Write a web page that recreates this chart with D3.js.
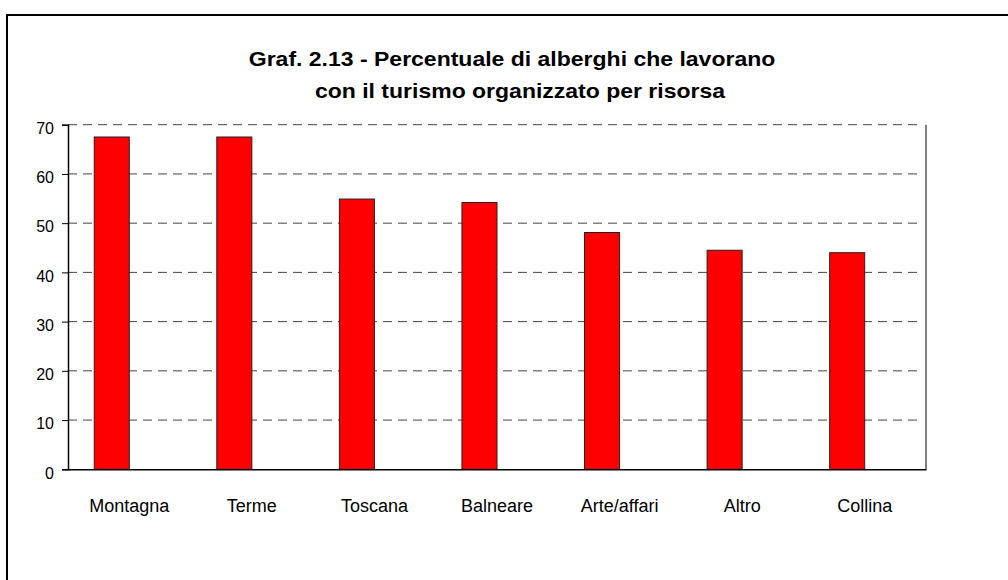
<!DOCTYPE html>
<html>
<head>
<meta charset="utf-8">
<script src="https://cdn.jsdelivr.net/npm/d3@7"></script>
<style>
    body { margin: 0; background: #fff; }
    svg { display: block; font-family: Arial, "Liberation Sans", sans-serif; }
</style>
</head>
<body>
<div id="chart"></div>
<script>
const categories = ["Montagna", "Terme", "Toscana", "Balneare", "Arte/affari", "Altro", "Collina"];
const values = [67.5, 67.5, 54.9, 54.2, 48.1, 44.5, 44.0];
const yTicks = [0, 10, 20, 30, 40, 50, 60, 70];
const titleLines = ["Graf. 2.13 - Percentuale di alberghi che lavorano", "con il turismo organizzato per risorsa"];

const WIDTH = 1008;
const HEIGHT = 580;
const PLOT = {left: 68, right: 926, top: 124.7, bottom: 469.3};
const BAR_RATIO = 0.286;

const svg = d3.select("#chart").append("svg")
    .attr("width", WIDTH)
    .attr("height", HEIGHT);

// outer frame (only top and left edges fall inside the picture)
svg.append("rect")
    .attr("x", 7).attr("y", 15)
    .attr("width", 1100).attr("height", 700)
    .attr("fill", "none")
    .attr("stroke", "#000")
    .attr("stroke-width", 2);

// title, slightly stretched like the original
const titlePos = [[512, 66], [520, 98]];
svg.append("g")
    .selectAll("text")
    .data(titleLines)
    .enter()
    .append("text")
    .attr("transform", (d, i) => `translate(${titlePos[i][0]},${titlePos[i][1]}) scale(1.15,1)`)
    .attr("text-anchor", "middle")
    .style("font-size", "20px").style("font-weight", "bold")
    .text(d => d);

const x = d3.scaleBand().domain(categories).range([PLOT.left, PLOT.right]);
const y = d3.scaleLinear().domain([0, 70]).range([PLOT.bottom, PLOT.top]);
const barW = x.bandwidth() * BAR_RATIO;

// plot right border
svg.append("line")
    .attr("x1", PLOT.right).attr("x2", PLOT.right)
    .attr("y1", y(70)).attr("y2", y(0))
    .attr("stroke", "#808080").attr("stroke-width", 2);

// gridlines
svg.append("g")
    .selectAll("line")
    .data(yTicks.filter(d => d > 0))
    .enter()
    .append("line")
    .attr("x1", PLOT.left).attr("x2", PLOT.right - 3)
    .attr("y1", d => y(d)).attr("y2", d => y(d))
    .attr("stroke", "#444")
    .attr("stroke-width", 1)
    .attr("stroke-dasharray", "9,6");

// bars (first slot of each category group)
svg.append("g")
    .selectAll("rect")
    .data(categories)
    .enter()
    .append("rect")
    .attr("x", (d) => x(d) + x.bandwidth() / 2 - barW)
    .attr("y", (d, i) => y(values[i]))
    .attr("width", barW)
    .attr("height", (d, i) => y(0) - y(values[i]))
    .attr("fill", "#ff0000")
    .attr("stroke", "#222")
    .attr("stroke-width", 1);

// y axis
const yAxis = svg.append("g")
    .attr("transform", `translate(${PLOT.left},0)`)
    .call(d3.axisLeft(y).tickValues(yTicks).tickSize(6).tickPadding(8).tickFormat(d3.format("d")));
yAxis.select(".domain").attr("stroke", "#000").attr("stroke-width", 1.5);
yAxis.selectAll(".tick line").attr("stroke", "#000");
yAxis.selectAll("text")
    .attr("dy", "0.55em")
    .style("font-size", "16px")
    .style("font-family", "Arial, 'Liberation Sans', sans-serif")
    .attr("fill", "#000");

// x axis
const xAxis = svg.append("g")
    .attr("transform", `translate(0,${PLOT.bottom})`)
    .call(d3.axisBottom(x).tickSize(0).tickPadding(30));
xAxis.select(".domain").attr("stroke", "#000").attr("stroke-width", 1.5);
xAxis.selectAll("text")
    .style("font-size", "18px")
    .style("font-family", "Arial, 'Liberation Sans', sans-serif")
    .attr("fill", "#000");
</script>
</body>
</html>
